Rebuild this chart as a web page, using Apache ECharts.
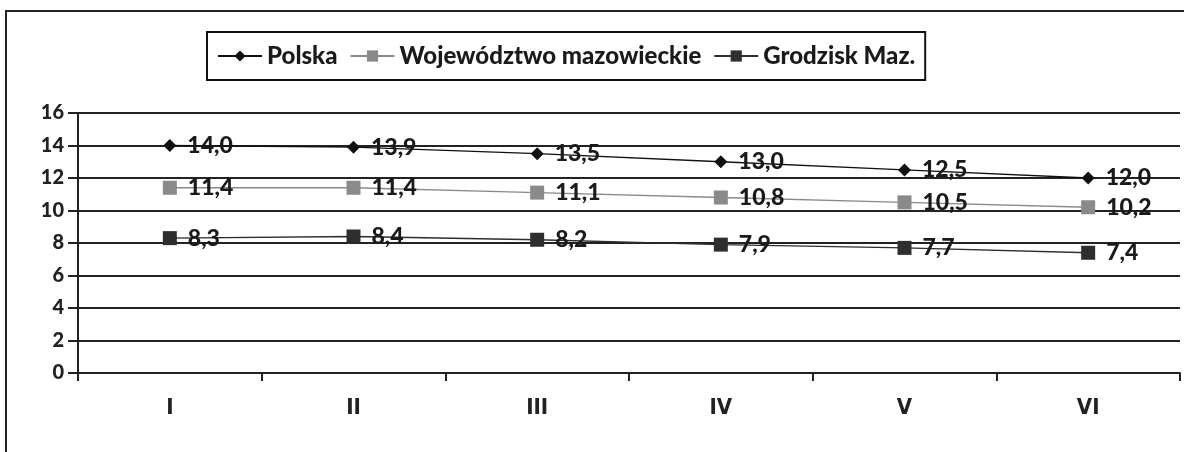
<!DOCTYPE html>
<html>
<head>
<meta charset="utf-8">
<script src="https://cdn.jsdelivr.net/npm/echarts@6/dist/echarts.min.js"></script>
<style>
  html, body { margin: 0; padding: 0; background: #fff; }
  #frame { position: absolute; left: 5px; top: 10px; width: 1200px; height: 460px; border: 2px solid #222; box-sizing: border-box; }
  #main { position: absolute; left: 0; top: 0; width: 1184px; height: 452px; }
</style>
</head>
<body>
<div id="frame"></div>
<div id="main"></div>
<script>
var months = ["I", "II", "III", "IV", "V", "VI"];
var polska = [14.0, 13.9, 13.5, 13.0, 12.5, 12.0];
var mazowieckie = [11.4, 11.4, 11.1, 10.8, 10.5, 10.2];
var grodzisk = [8.3, 8.4, 8.2, 7.9, 7.7, 7.4];

var chartDom = document.getElementById("main");
var myChart = echarts.init(chartDom);
var font = "Lato, 'Open Sans', sans-serif";

function fmt(v) {
  return v.toFixed(1).replace(".", ",");
}

var labelStyle = {
  show: true,
  position: "right",
  distance: 11,
  color: "#1a1a1a",
  fontFamily: font,
  fontWeight: 900,
  fontSize: 23,
  formatter: function (p) { return fmt(p.value); }
};

var option = {
  animation: false,
  grid: { left: 78, right: 4, top: 113, bottom: 79 },
  legend: {
    left: 207,
    top: 32,
    padding: [12, 10, 12, 10],
    itemGap: 12,
    itemWidth: 44,
    itemHeight: 14,
    borderColor: "#111",
    borderWidth: 2,
    textStyle: { fontFamily: font, fontWeight: 900, fontSize: 24, color: "#1a1a1a" },
    data: ["Polska", "Województwo mazowieckie", "Grodzisk Maz."]
  },
  xAxis: {
    type: "category",
    data: months,
    boundaryGap: true,
    axisLine: { lineStyle: { color: "#222", width: 2 } },
    axisTick: { show: true, length: 8, lineStyle: { color: "#222", width: 2 } },
    axisLabel: { margin: 24, color: "#222", fontFamily: "'DejaVu Sans Condensed', 'Liberation Sans Narrow', sans-serif", fontWeight: "bold", fontSize: 22 }
  },
  yAxis: {
    type: "value",
    min: 0,
    max: 16,
    interval: 2,
    axisLine: { show: true, lineStyle: { color: "#222", width: 2 } },
    axisTick: { show: true, length: 10, lineStyle: { color: "#222", width: 2 } },
    axisLabel: { margin: 14, color: "#222", fontFamily: font, fontWeight: 900, fontSize: 20 },
    splitLine: { lineStyle: { color: "#222", width: 2 } }
  },
  series: [
    {
      name: "Polska",
      type: "line",
      data: polska,
      symbol: "diamond",
      symbolSize: 13,
      itemStyle: { color: "#111" },
      lineStyle: { color: "#111", width: 1.5 },
      label: labelStyle
    },
    {
      name: "Województwo mazowieckie",
      type: "line",
      data: mazowieckie,
      symbol: "rect",
      symbolSize: 14,
      itemStyle: { color: "#8a8a8a" },
      lineStyle: { color: "#8a8a8a", width: 1.5 },
      label: labelStyle
    },
    {
      name: "Grodzisk Maz.",
      type: "line",
      data: grodzisk,
      symbol: "rect",
      symbolSize: 14,
      itemStyle: { color: "#2e2e2e" },
      lineStyle: { color: "#2e2e2e", width: 1.5 },
      label: labelStyle
    }
  ]
};

option && myChart.setOption(option);
</script>
</body>
</html>
